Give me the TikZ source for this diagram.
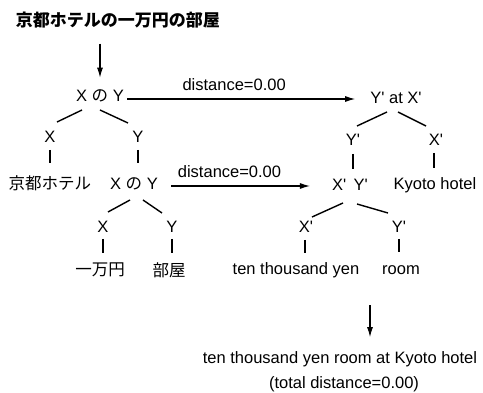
\documentclass[tikz,border=0pt]{standalone}
\usepackage{fontspec}
\setmainfont{Liberation Sans}
\newfontfamily\jp{Noto Sans CJK JP}
\newcommand\q{\textquotesingle}
\usetikzlibrary{arrows.meta,calc}
\begin{document}
\begin{tikzpicture}[x=1pt,y=-1pt,
  every node/.style={inner sep=0pt, font=\fontsize{16.5}{18}\selectfont},
  jpt/.style={font=\fontsize{16.5}{18}\selectfont\jp},
  conn/.style={line width=1.4pt},
  arr/.style={line width=1.1pt,-{Latex[length=10pt,width=6pt]}},
  lbl/.style={font=\fontsize{16.5}{18}\selectfont}]
\useasboundingbox (0,0) rectangle (483,393);
% title
\node[jpt,font=\fontsize{17}{18}\selectfont\jp\bfseries] (title) at (118,20) {京都ホテルの一万円の部屋};
% left tree
\node (xy1) at (100,96) {X {\jp の} Y};
\node (lx1) at (50,137) {X};
\node (ly1) at (138,137) {Y};
\node[jpt] (kyjp) at (50,183) {京都ホテル};
\node (xy2) at (134,184) {X {\jp の} Y};
\node (lx2) at (103,227) {X};
\node (ly2) at (172,227) {Y};
\node[jpt] (man) at (100,270) {一万円};
\node[jpt] (heya) at (169,270) {部屋};
% right tree
\node (yx1) at (396,98) {Y\q{} at X\q};
\node (ry1) at (353,140) {Y\q};
\node (rx1) at (436,140) {X\q};
\node (xpyp) at (350,185) {X\q\, Y\q};
\node (kh) at (435,185) {Kyoto hotel};
\node (rx2) at (306,227) {X\q};
\node (ry2) at (399,227) {Y\q};
\node (tty) at (296,270) {ten thousand yen};
\node (room) at (401,270) {room};
% result
\node (res) at (340,359) {ten thousand yen room at Kyoto hotel};
\node (tot) at (344,384) {(total distance=0.00)};
% arrows
\draw[arr] ($(xy1.north)+(0,-46)$) -- ($(xy1.north)+(0,-12)$);
\draw[arr] (xy1.east) ++(3,3) -- node[lbl,above=8pt,xshift=-7pt] {distance=0.00} ($(yx1.west)+(-15,1)$);
\draw[arr] (xy2.east) ++(13,2) -- node[lbl,above=8pt,xshift=-11pt] {distance=0.00} ($(xpyp.west)+(-22,1)$);
\draw[arr] ($(res.north)+(30,-46)$) -- ($(res.north)+(30,-14)$);
% tree lines
\draw[conn] (xy1.center) ++(-18,14) -- ++(-25,12);
\draw[conn] (xy1.center) ++(0,14) -- ++(28,13);
\draw[conn] (lx1.center) ++(0,13) -- ++(0,13);
\draw[conn] (ly1.center) ++(0,13) -- ++(0,13);
\draw[conn] (xy2.center) ++(-4,16) -- ++(-22,12);
\draw[conn] (xy2.center) ++(9,16) -- ++(19,13);
\draw[conn] (lx2.center) ++(0,12) -- ++(0,14);
\draw[conn] (ly2.center) ++(0,12) -- ++(0,14);
\draw[conn] (yx1.center) ++(-9,14) -- ++(-30,14);
\draw[conn] (yx1.center) ++(2,14) -- ++(28,14);
\draw[conn] (ry1.center) ++(0,14) -- ++(0,15);
\draw[conn] (rx1.center) ++(-2,13) -- ++(0,15);
\draw[conn] (xpyp.center) ++(-7,18) -- ++(-31,14);
\draw[conn] (xpyp.center) ++(7,19) -- ++(31,9);
\draw[conn] (rx2.center) ++(-1,13) -- ++(0,13);
\draw[conn] (ry2.center) ++(0,12) -- ++(0,13);
\end{tikzpicture}
\end{document}
